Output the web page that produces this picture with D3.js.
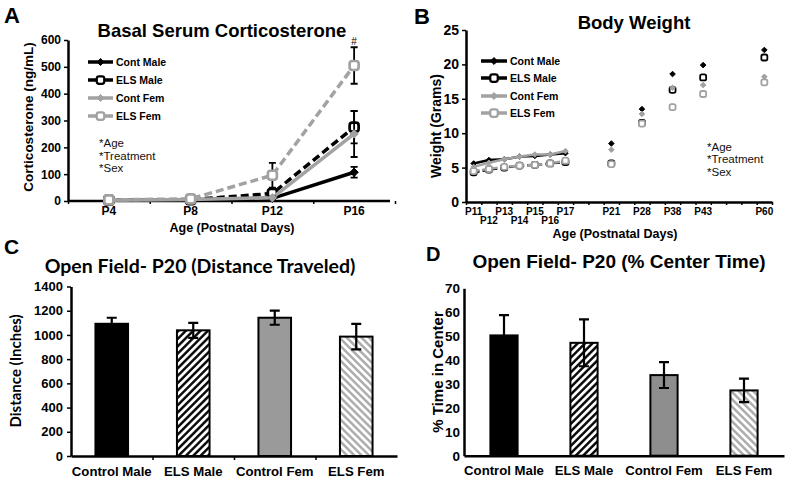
<!DOCTYPE html>
<html>
<head>
<meta charset="utf-8">
<script src="https://cdn.jsdelivr.net/npm/d3@7"></script>
<style>
body { margin: 0; background: #fff; }
svg { display: block; font-family: "Liberation Sans", Arial, sans-serif; }
</style>
</head>
<body>
<div id="main"></div>
<script>
const ctx = {
    w: 789,
    h: 484,
    black: "#000",
    gray: "#a2a2a2",
};

// legend + stats notes (A and B)
const groupNames = ["Cont Male", "ELS Male", "Cont Fem", "ELS Fem"];
const effectNotes = ["*Age", "*Treatment", "*Sex"];

// A: basal serum corticosterone (ng/mL)
const corticoDays = ["P4", "P8", "P12", "P16"];
const corticoTicks = [0, 100, 200, 300, 400, 500, 600];
const corticoContMale = [3, 5, 10, 107];
const corticoElsMale = [3, 5, 28, 275];
const corticoContFem = [3, 6, 12, 250];
const corticoElsFem = [4, 8, 96, 505];
const corticoContMaleErr = [2, 2, 4, 20];
const corticoElsMaleErr = [2, 2, 10, 60];
const corticoContFemErr = [2, 2, 5, 86];
const corticoElsFemErr = [2, 3, 46, 68];

// B: body weight (grams), days sit on an excel category axis with blank slots
const weightDays = ["P11", "P12", "P13", "P14", "P15", "P16", "P17", "P21", "P28", "P38", "P43", "P60"];
const weightSlots = [0, 1, 2, 3, 4, 5, 6, 9, 11, 13, 15, 19];
const weightTicks = [0, 5, 10, 15, 20, 25];
const weightContMale = [5.6, 6.1, 6.2, 6.6, 6.7, 6.9, 7.1, 8.5, 13.5, 18.6, 19.9, 22.1];
const weightElsMale = [4.3, 4.7, 5.0, 5.3, 5.4, 5.6, 5.8, 5.6, 11.5, 16.3, 18.1, 21.0];
const weightContFem = [5.1, 5.7, 6.2, 6.6, 6.9, 6.9, 7.4, 7.6, 12.8, 16.6, 17.0, 18.2];
const weightElsFem = [4.5, 4.8, 5.1, 5.3, 5.4, 5.6, 6.0, 5.5, 11.4, 13.8, 15.7, 17.4];

// C + D: open field at P20
const openFieldGroups = ["Control Male", "ELS Male", "Control Fem", "ELS Fem"];
const distanceMeans = [1092, 1038, 1142, 986];
const distanceErr = [50, 62, 58, 106];
const distanceTicks = [0, 200, 400, 600, 800, 1000, 1200, 1400];
const centerMeans = [50.3, 47.2, 33.7, 27.3];
const centerErr = [8.5, 9.8, 5.4, 4.9];
const centerTicks = [0, 10, 20, 30, 40, 50, 60, 70];

const seriesStyle = [
    {color: ctx.black, dash: null, marker: "diamond"},
    {color: ctx.black, dash: "8,4", marker: "square"},
    {color: ctx.gray, dash: null, marker: "diamond"},
    {color: ctx.gray, dash: "8,4", marker: "square"},
];

const svg = d3.select("#main").append("svg")
    .attr("width", ctx.w)
    .attr("height", ctx.h);

// hatch patterns for the ELS bars
const defs = svg.append("defs");
function addHatch(id, angle, color) {
    let p = defs.append("pattern")
        .attr("id", id)
        .attr("patternUnits", "userSpaceOnUse")
        .attr("width", 5.2)
        .attr("height", 5.2)
        .attr("patternTransform", `rotate(${angle})`);
    p.append("rect").attr("width", 5.2).attr("height", 5.2).attr("fill", "#fff");
    p.append("line")
        .attr("x1", 1.3).attr("y1", 0).attr("x2", 1.3).attr("y2", 5.2)
        .attr("stroke", color)
        .attr("stroke-width", 2.4);
}
addHatch("hatchMale", 45, "#000");
addHatch("hatchFem", -45, "#a9a9a9");

function panelLetter(letter, x, y, size) {
    svg.append("text")
        .attr("x", x).attr("y", y)
        .attr("font-size", size)
        .attr("font-weight", "bold")
        .text(letter);
}

function styleAxis(g, width, fontSize) {
    g.attr("font-family", null).attr("font-size", fontSize);
    g.select(".domain").attr("stroke", "#000").attr("stroke-width", width);
    g.selectAll(".tick line").attr("stroke", "#000").attr("stroke-width", 1.5);
    g.selectAll("text").attr("fill", "#000").attr("font-weight", "bold");
}

function drawMarker(g, kind, x, y, color, size) {
    if (kind == "diamond") {
        g.append("path")
            .attr("d", d3.symbol(d3.symbolDiamond2, size * size * 0.55)())
            .attr("transform", `translate(${x},${y})`)
            .attr("fill", color)
            .attr("stroke", color)
            .attr("stroke-width", 1);
    }
    else {
        g.append("rect")
            .attr("x", x - size / 2).attr("y", y - size / 2)
            .attr("width", size).attr("height", size)
            .attr("rx", size * 0.3)
            .attr("fill", "#fff")
            .attr("stroke", color)
            .attr("stroke-width", size * 0.3);
    }
}

function drawLegend(g, x0, x1, rows, fontSize) {
    groupNames.forEach((name, i) => {
        let s = seriesStyle[i];
        g.append("line")
            .attr("x1", x0).attr("x2", x1)
            .attr("y1", rows[i]).attr("y2", rows[i])
            .attr("stroke", s.color)
            .attr("stroke-width", 3.5);
        drawMarker(g, s.marker, (x0 + x1) / 2, rows[i], s.color, 7.5);
        g.append("text")
            .attr("x", x1 + 3).attr("y", rows[i])
            .attr("dy", "0.35em")
            .attr("font-size", fontSize)
            .attr("font-weight", "bold")
            .text(name);
    });
}

function drawNotes(g, x, rows) {
    effectNotes.forEach((t, i) => {
        g.append("text")
            .attr("x", x).attr("y", rows[i])
            .attr("dy", "0.35em")
            .attr("font-size", 11.5)
            .attr("fill", "#111")
            .text(t);
    });
}

/** A: corticosterone line chart */
function drawCortico() {
    let g = svg.append("g").attr("id", "panelA");
    let x = d3.scaleBand().domain(corticoDays).range([68, 395]);
    let y = d3.scaleLinear().domain([0, 600]).range([201, 40]);

    let yAxis = g.append("g")
        .attr("transform", `translate(${x.range()[0]},0)`)
        .call(d3.axisLeft(y).tickValues(corticoTicks).tickSize(4).tickSizeOuter(0));
    styleAxis(yAxis, 2.5, 12);

    // tick marks between categories
    let xTicks = g.append("g")
        .attr("transform", `translate(0,${y(0)})`)
        .call(d3.axisBottom(d3.scaleLinear().domain([0, 4]).range([68, 395]))
            .ticks(4).tickSize(3).tickFormat("").tickSizeOuter(0));
    styleAxis(xTicks, 2.5, 12);
    xTicks.select(".domain").attr("d", `M68,0H390`);

    g.selectAll("text.day")
        .data(corticoDays)
        .enter()
        .append("text")
        .attr("class", "day")
        .attr("x", d => x(d) + x.bandwidth() / 2)
        .attr("y", 215)
        .attr("text-anchor", "middle")
        .attr("font-size", 12)
        .attr("font-weight", "bold")
        .text(d => d);

    let series = [
        [corticoContMale, corticoContMaleErr],
        [corticoElsMale, corticoElsMaleErr],
        [corticoContFem, corticoContFemErr],
        [corticoElsFem, corticoElsFemErr],
    ];
    let cx = (d, i) => x(corticoDays[i]) + x.bandwidth() / 2;
    series.forEach(([vals, errs], k) => {
        let s = seriesStyle[k];
        let line = d3.line().x((d, i) => cx(d, i)).y(d => y(d));
        g.append("path")
            .attr("d", line(vals))
            .attr("fill", "none")
            .attr("stroke", s.color)
            .attr("stroke-width", 3.5)
            .attr("stroke-dasharray", s.dash);
        vals.forEach((v, i) => {
            let xx = cx(v, i);
            g.append("path")
                .attr("d", `M${xx},${y(v + errs[i])}V${y(v - errs[i])}M${xx - 3.5},${y(v + errs[i])}H${xx + 3.5}M${xx - 3.5},${y(v - errs[i])}H${xx + 3.5}`)
                .attr("stroke", "#000")
                .attr("stroke-width", 1.8)
                .attr("fill", "none");
            drawMarker(g, s.marker, xx, y(v), s.color, 9);
        });
    });

    g.append("text")
        .attr("x", cx(0, 3)).attr("y", 45)
        .attr("text-anchor", "middle")
        .attr("font-size", 10)
        .text("#");

    drawLegend(g, 88, 113, [62, 80, 98, 116], 10.5);
    drawNotes(g, 99, [143, 156, 168]);

    g.append("text")
        .attr("x", 222).attr("y", 37)
        .attr("text-anchor", "middle")
        .attr("font-size", 18.5)
        .attr("font-weight", "bold")
        .text("Basal Serum Corticosterone");
    g.append("text")
        .attr("x", 232).attr("y", 232)
        .attr("text-anchor", "middle")
        .attr("font-size", 12.5)
        .attr("font-weight", "bold")
        .text("Age (Postnatal Days)");
    g.append("text")
        .attr("transform", "translate(33,117) rotate(-90)")
        .attr("text-anchor", "middle")
        .attr("font-size", 13.5)
        .attr("font-weight", "bold")
        .text("Corticosterone (ng/mL)");
    panelLetter("A", 4, 23, 22);
}

/** B: body weight */
function drawWeight() {
    let g = svg.append("g").attr("id", "panelB");
    let x = d3.scaleBand().domain(d3.range(20)).range([466, 772]);
    let y = d3.scaleLinear().domain([0, 25]).range([202, 30]);

    let yAxis = g.append("g")
        .attr("transform", `translate(${x.range()[0]},0)`)
        .call(d3.axisLeft(y).tickValues(weightTicks).tickSize(4).tickSizeOuter(0));
    styleAxis(yAxis, 2.5, 14);

    let xTicks = g.append("g")
        .attr("transform", `translate(0,${y(0)})`)
        .call(d3.axisBottom(d3.scaleLinear().domain([0, 20]).range(x.range()))
            .ticks(20).tickSize(3).tickFormat("").tickSizeOuter(0));
    styleAxis(xTicks, 2.5, 12);

    let cx = i => x(weightSlots[i]) + x.bandwidth() / 2;
    g.selectAll("text.day")
        .data(weightDays)
        .enter()
        .append("text")
        .attr("class", "day")
        .attr("x", (d, i) => cx(i))
        .attr("y", (d, i) => (i < 7 && i % 2 == 1) ? 224 : 215)
        .attr("text-anchor", "middle")
        .attr("font-size", 10)
        .attr("font-weight", "bold")
        .text(d => d);

    let series = [weightContMale, weightElsMale, weightContFem, weightElsFem];
    series.forEach((vals, k) => {
        let s = seriesStyle[k];
        // only the daily P11-P17 run is joined
        let line = d3.line().x((d, i) => cx(i)).y(d => y(d));
        g.append("path")
            .attr("d", line(vals.slice(0, 7)))
            .attr("fill", "none")
            .attr("stroke", s.color)
            .attr("stroke-width", 2.5)
            .attr("stroke-dasharray", s.dash ? "6,3" : null);
        vals.forEach((v, i) => drawMarker(g, s.marker, cx(i), y(v), s.color, 6));
    });

    drawLegend(g, 481, 507, [61, 78, 96, 113], 10.5);
    drawNotes(g, 707, [147, 159, 172]);

    g.append("text")
        .attr("x", 634).attr("y", 29)
        .attr("text-anchor", "middle")
        .attr("font-size", 18.5)
        .attr("font-weight", "bold")
        .text("Body Weight");
    g.append("text")
        .attr("x", 615).attr("y", 238)
        .attr("text-anchor", "middle")
        .attr("font-size", 12.5)
        .attr("font-weight", "bold")
        .text("Age (Postnatal Days)");
    g.append("text")
        .attr("transform", "translate(441,126) rotate(-90)")
        .attr("text-anchor", "middle")
        .attr("font-size", 14)
        .attr("font-weight", "bold")
        .text("Weight (Grams)");
    panelLetter("B", 414, 24, 22);
}

/** C + D: bar charts */
function drawBars(opts) {
    let g = svg.append("g").attr("id", opts.id);
    let x = d3.scaleBand().domain(openFieldGroups).range(opts.xRange)
        .paddingInner(opts.pad).paddingOuter(opts.pad / 2);
    let y = d3.scaleLinear().domain([0, opts.max]).range(opts.yRange);
    let fills = ["#000", "url(#hatchMale)", opts.femGray, "url(#hatchFem)"];

    let yAxis = g.append("g")
        .attr("transform", `translate(${opts.xRange[0]},0)`)
        .call(d3.axisLeft(y).tickValues(opts.ticks).tickFormat(d3.format("d"))
            .tickSize(opts.tickSize).tickPadding(4).tickSizeOuter(0));
    styleAxis(yAxis, 2.5, opts.tickFont);

    let xAxis = g.append("g")
        .attr("transform", `translate(0,${opts.yRange[0]})`)
        .call(d3.axisBottom(d3.scaleLinear().domain([0, 4]).range(opts.xRange))
            .ticks(4).tickSize(opts.tickSize).tickFormat("").tickSizeOuter(0));
    styleAxis(xAxis, 2.5, 12);
    xAxis.selectAll(".tick").filter((d, i) => i == 0 || i == 4).remove();

    g.selectAll("rect.bar")
        .data(opts.means)
        .enter()
        .append("rect")
        .attr("class", "bar")
        .attr("x", (d, i) => x(openFieldGroups[i]))
        .attr("y", d => y(d))
        .attr("width", x.bandwidth())
        .attr("height", d => y(0) - y(d))
        .attr("fill", (d, i) => fills[i])
        .attr("stroke", "#000")
        .attr("stroke-width", 2);

    g.selectAll("path.err")
        .data(opts.means)
        .enter()
        .append("path")
        .attr("class", "err")
        .attr("d", (d, i) => {
            let xx = x(openFieldGroups[i]) + x.bandwidth() / 2;
            let hi = y(d + opts.errs[i]), lo = y(d - opts.errs[i]);
            return `M${xx},${hi}V${lo}M${xx - 5},${hi}H${xx + 5}M${xx - 5},${lo}H${xx + 5}`;
        })
        .attr("stroke", "#000")
        .attr("stroke-width", 2.2)
        .attr("fill", "none");

    g.selectAll("text.group")
        .data(openFieldGroups)
        .enter()
        .append("text")
        .attr("class", "group")
        .attr("x", d => x(d) + x.bandwidth() / 2)
        .attr("y", opts.labelY)
        .attr("text-anchor", "middle")
        .attr("font-size", 13.2)
        .attr("font-weight", "bold")
        .text(d => d);

    g.append("text")
        .attr("x", opts.titleX).attr("y", opts.titleY)
        .attr("text-anchor", "middle")
        .attr("font-family", opts.titleFont)
        .attr("font-size", opts.titleSize)
        .attr("font-weight", "bold")
        .text(opts.title);
    g.append("text")
        .attr("transform", `translate(${opts.yLabelX},${opts.yLabelY}) rotate(-90)`)
        .attr("text-anchor", "middle")
        .attr("font-family", opts.titleFont)
        .attr("font-size", opts.yLabelSize)
        .attr("font-weight", "bold")
        .text(opts.yLabel);
}

drawCortico();
drawWeight();

drawBars({
    id: "panelC",
    xRange: [71, 397],
    yRange: [456, 286.5],
    pad: 0.6,
    max: 1400,
    ticks: distanceTicks,
    tickSize: 4,
    tickFont: 13,
    means: distanceMeans,
    errs: distanceErr,
    femGray: "#9a9a9a",
    labelY: 476,
    title: "Open Field- P20 (Distance Traveled)",
    titleX: 200, titleY: 273,
    titleFont: "Lato, 'Liberation Sans', sans-serif",
    titleSize: 19.5,
    yLabel: "Distance (Inches)",
    yLabelX: 21, yLabelY: 371,
    yLabelSize: 15,
});
panelLetter("C", 4, 254, 21);

drawBars({
    id: "panelD",
    xRange: [464, 784],
    yRange: [455.7, 288.3],
    pad: 0.66,
    max: 70,
    ticks: centerTicks,
    tickSize: 0,
    tickFont: 13.5,
    means: centerMeans,
    errs: centerErr,
    femGray: "#8e8e8e",
    labelY: 475,
    title: "Open Field- P20 (% Center Time)",
    titleX: 619, titleY: 268,
    titleFont: "'Liberation Sans', Arial, sans-serif",
    titleSize: 19,
    yLabel: "% Time in Center",
    yLabelX: 443, yLabelY: 372,
    yLabelSize: 15,
});
panelLetter("D", 426, 261, 20);
</script>
</body>
</html>
